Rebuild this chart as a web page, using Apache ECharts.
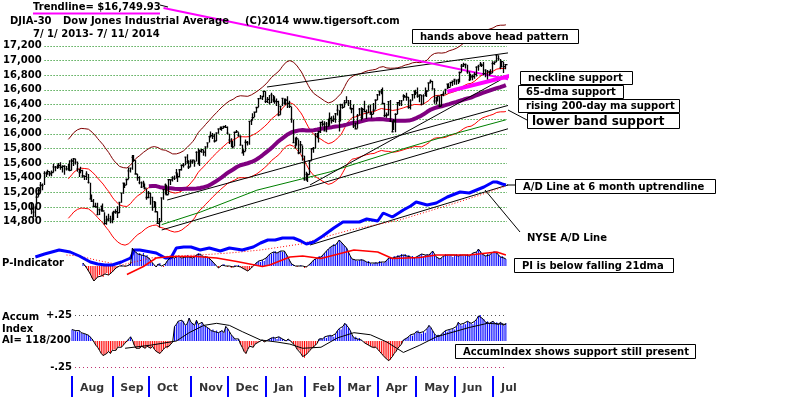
<!DOCTYPE html>
<html><head><meta charset="utf-8">
<script src="https://cdn.jsdelivr.net/npm/echarts@6/dist/echarts.min.js"></script>
<style>html,body{margin:0;padding:0;background:#fff}#c{width:800px;height:397px}</style>
</head><body><div id="c"></div>
<script>
// ---------- DATA ----------
const holidays = ['2013-07-04','2013-09-02','2013-11-28','2013-12-25','2014-01-01','2014-01-20','2014-02-17','2014-04-18','2014-05-26','2014-07-04'];
const monthNames = ['Jan','Feb','Mar','Apr','May','Jun','Jul','Aug','Sep','Oct','Nov','Dec'];

const closes = [
14975,14932,14988,15136,15225,15300,15291,15460,15464,15484,15452,15471,15548,15543,15545,15567,15542,15555,15559,15521,15520,15500,
15628,15658,15612,15519,15471,15498,15425,15419,15451,15337,15112,15081,15010,15002,14897,14963,15010,14946,14776,14825,14840,14810,
14834,14931,14937,14922,15063,15191,15327,15300,15376,15494,15530,15677,15636,15451,15401,15334,15273,15328,15258,15130,
15191,15133,14996,15072,14936,14776,14802,15126,15237,15301,15168,15373,15371,15399,15392,15468,15413,15509,15570,15568,15680,15618,15546,
15615,15639,15618,15746,15593,15761,15783,15750,15822,15876,15962,15976,15968,15901,16010,16065,16073,16073,16098,16086,
16009,15915,15889,15821,16020,16026,15973,15844,15739,15755,15884,15875,16168,16179,16221,16294,16358,16479,16479,16505,16577,
16441,16469,16426,16531,16463,16444,16437,16257,16374,16482,16418,16459,16415,16374,16198,15880,15838,15929,15739,15849,15699,
15373,15445,15441,15629,15795,15802,15994,15964,16027,16154,16130,16041,16134,16104,16208,16180,16199,16273,16322,
16168,16395,16361,16422,16453,16419,16351,16341,16108,16066,16247,16337,16223,16331,16302,16276,16368,16268,16264,16323,16458,
16532,16573,16572,16413,16246,16256,16438,16171,16027,16174,16263,16425,16409,16449,16514,16502,16501,16361,16449,16535,16581,
16558,16513,16531,16401,16518,16550,16583,16695,16715,16613,16447,16491,16512,16375,16534,16543,16606,16676,16633,16698,16717,
16743,16722,16737,16836,16924,16943,16945,16844,16734,16776,16781,16809,16907,16921,16947,16937,16819,16868,16847,16852,16827,
16956,16976,17068,17024,16906,16985,16915,16944];

const highs = [
15070,15010,15010,15190,15250,15340,15320,15490,15480,15510,15490,15500,15590,15560,15580,15600,15610,15570,15570,15560,15590,15640,
15660,15670,15660,15620,15520,15550,15510,15430,15490,15450,15330,15170,15110,15060,15060,14980,15020,15050,14930,14880,14910,14880,
14930,14950,14970,15010,15070,15200,15330,15330,15390,15540,15540,15710,15710,15640,15450,15420,15350,15360,15320,15250,
15220,15190,15140,15080,15070,14940,14850,15130,15240,15320,15300,15380,15380,15420,15430,15520,15460,15520,15580,15600,15690,15720,15640,
15650,15650,15640,15760,15800,15780,15790,15780,15830,15880,15970,16030,16010,16000,16020,16070,16100,16100,16110,16120,
16100,16000,15940,15900,16030,16050,16020,15980,15850,15790,15920,15900,16170,16200,16280,16300,16360,16480,16530,16520,16580,
16580,16500,16530,16560,16530,16510,16480,16450,16380,16490,16480,16480,16510,16450,16370,16190,15950,15960,15920,15900,15840,
15700,15480,15460,15640,15800,15820,16010,16010,16040,16160,16180,16170,16160,16200,16290,16240,16250,16280,16400,
16320,16410,16410,16460,16510,16460,16460,16350,16400,16150,16270,16350,16360,16350,16450,16330,16390,16400,16300,16420,16470,
16540,16590,16610,16630,16420,16290,16440,16460,16170,16200,16280,16430,16460,16460,16540,16530,16560,16500,16470,16540,16590,
16600,16630,16540,16530,16540,16630,16590,16700,16740,16720,16620,16500,16520,16510,16540,16580,16610,16680,16690,16710,16720,
16750,16740,16750,16850,16950,16970,16960,16940,16850,16820,16810,16840,16920,16940,16980,16960,16980,16880,16870,16860,16880,
16990,16990,17075,17070,17020,16990,16980,16950];

const lows = [
14900,14860,14860,14990,15140,15230,15230,15300,15410,15440,15420,15420,15470,15490,15520,15530,15510,15470,15440,15500,15500,15490,
15500,15560,15580,15480,15410,15460,15400,15370,15370,15320,15100,15070,15000,14990,14890,14890,14940,14940,14760,14760,14810,14780,
14780,14820,14910,14850,14920,15060,15180,15260,15300,15380,15470,15510,15620,15450,15360,15310,15260,15270,15240,15100,
15120,15030,14950,14990,14930,14770,14720,14810,15100,15170,15160,15170,15300,15350,15370,15390,15340,15410,15500,15540,15570,15590,15520,
15550,15590,15550,15620,15580,15560,15740,15700,15690,15810,15880,15950,15930,15880,15900,16000,16050,16040,16070,16080,
15990,15860,15820,15800,15830,16010,15960,15840,15730,15700,15760,15840,15850,16120,16180,16230,16290,16360,16470,16460,16500,
16420,16420,16400,16420,16430,16410,16380,16240,16260,16380,16400,16390,16350,16350,16150,15870,15800,15840,15720,15740,15630,
15360,15360,15340,15440,15630,15740,15800,15940,15880,16010,16100,16030,16020,16100,16110,16140,16160,16150,16250,
16030,16170,16340,16360,16420,16380,16330,16280,16080,16060,16070,16250,16180,16200,16300,16200,16280,16260,16210,16270,16330,
16460,16520,16540,16400,16230,16220,16250,16160,16020,16050,16020,16270,16380,16380,16450,16490,16450,16340,16330,16450,16480,
16530,16490,16430,16390,16400,16510,16500,16590,16690,16600,16410,16400,16440,16360,16380,16510,16540,16610,16620,16640,16650,
16670,16670,16680,16700,16840,16910,16890,16820,16720,16730,16730,16750,16780,16860,16920,16910,16800,16770,16740,16790,16810,
16830,16940,16980,17000,16880,16910,16830,16880];

// price tick labels
const priceTickMin = 14800, priceTickMax = 17200, priceTickStep = 200;

// 200-day ma (green) readings [dayIndex, price]
const greenLine = [[71,14760],[92,14930],[123,15230],[163,15480],[178,15600],[201,15780],[228,15980],[259,16190]];

// straight trendlines [dayIndex, price]
const upperChannel = [[128.5,16638],[298.4,17238]];
const headTrendline = [[72,17716],[262,16734]];
const necklineLine = [[227,16574],[267,16825]];
const supportLine1 = [[74,15096],[261,16392]];
const supportLine2 = [[71,14687],[267,16118]];
const supportLine3 = [[152,15301],[256,16733]];

// NYSE A/D line (relative units) [dayIndex, value]
const adLine = [[2,43],[7,46],[15,50],[21,48],[26,44],[32,38],[36,36],[40,35],[44,35],[49,38],[54,42],[56,50],[59,50],[65,48],[68,47],[73,42],[76,42],[79,52],[83,53],[87,53],[92,50],[97,52],[103,49],[108,52],[115,50],[121,53],[125,57],[129,60],[133,60],[137,62],[143,62],[147,59],[150,56],[154,58],[159,64],[165,72],[170,78],[174,78],[179,78],[183,81],[189,79],[192,87],[197,83],[203,90],[207,94],[210,98],[216,95],[221,97],[227,103],[234,108],[239,107],[247,113],[252,118],[254,118],[257,116],[259,115]];
const adMA = [[19,45],[26,44],[35,40],[43,37],[49,35],[56,38],[65,42],[76,44],[92,45],[108,47],[125,50],[136,53],[147,56],[158,62],[174,70],[201,80],[228,95],[245,105],[259,114]];
const adTrend = [[152,55],[286,129.4]];

// P-Indicator (relative units), daily from index piStart
const piStart = 28;
const piValues = [3,1,-2,-5, -8,-12,-15,-13,-11, -9,-10,-11,-8,-7, -9,-8,-6,-4,-2,-1, 0,1,0,-1,0,1,2,
18,15,14,12,13,11,13,10,11,8, 6,3,1,-1,2,3,0,-1,2,5, 7,9,10,8,9,
10,9,8,10,9,11,9,10,8,9,11,13,12,10,9,10,9,8,6,4,
2,0,-2,-1,1,2,0,-1,0,-2,-1,1,0,1,-1,-2, -3,-4,-5,-4,-2,0, 2,4,5,4,6,5,8,10,12,
12,14,15,13,14,15,14,15,12,9,5,2, 1,0,-1,0,1,0,-2,-1,0,2,4,
6,7,8,10,9,11,13,15,17,19,20,22,21,23,26,24,22,20,18,14,10,7,
7,6,5,6,7,6,5,4,5,3,2,3,4,3,5,4,3,4,6,8,
9,8,10,9,11,10,12,11,12,10, 11,9,10,8,9,10,11,12,10,11, 12,11,13,15,12,9,8,7,8,10,
12,11,10,11,9,11,12,10,12,11, 10,11,12,10,11,13,12,14,17,15, 12,11,10,12,11,12,14,15,13,11, 9,10,8,7];
const piMA = [[52,-8.5],[61,-0.5],[68,8],[76,9.5],[90,9.5],[101,8],[112,4.5],[126,-0.5],[130,1],[141,9],[148,10],[158,7.5],[176,16],[189,14],[197,7.5],[212,8.5],[221,11],[239,11],[254,14],[259,11]];

// Accumulation Index, daily from index aiStart
const aiStart = 22;
const aiValues = [0.11,0.10,0.10,0.09,0.10,0.08,0.07,0.07,0.06,0.055,0.04,0.02,
-0.01,-0.04,-0.06,-0.09,-0.12,-0.14,-0.13,-0.12,-0.10,-0.12,-0.09,-0.08,
-0.09,-0.06,-0.05,-0.06,-0.04,-0.02,-0.01,0.02,0.04,0.01,
-0.04,-0.07,-0.06,-0.07,-0.05,-0.06,-0.07,-0.05,-0.06,-0.07,-0.05,
-0.08,-0.10,-0.11,-0.12,-0.10,-0.08,-0.06,-0.07,-0.05,-0.03,-0.01,
0.14,0.16,0.19,0.18,0.20,0.19,0.15,0.17,0.22,0.18,0.17,0.15,0.20,
0.16,0.15,0.18,0.15,0.14,0.13,0.12,0.10,0.11,0.09,0.10,0.08,0.09,
0.10,0.08,0.14,0.12,0.09,0.06,0.04,0.02,0.01,0.02,
-0.03,-0.06,-0.10,-0.12,-0.08,-0.05,-0.04,-0.06,-0.03,-0.02,-0.01,0.00,0.01,-0.01,0.00,
0.01,0.02,0.03,0.04,0.03,0.02,0.04,0.03,0.02,0.01,0.00,0.02,0.01,-0.01,
-0.03,-0.05,-0.08,-0.09,-0.12,-0.15,-0.16,-0.13,-0.11,-0.09,-0.07,-0.06,-0.04,-0.02,
0.02,0.03,0.02,0.04,0.03,0.05,0.06,0.05,0.04,0.07,0.10,0.12,0.11,0.14,0.17,0.16,0.13,0.10,0.06,
0.03,0.04,0.02,0.03,0.01,0.00,-0.02,-0.03,
-0.04,-0.05,-0.06,-0.07,-0.06,-0.08,-0.10,-0.12,-0.14,-0.16,-0.17,-0.19,-0.18,-0.15,-0.12,-0.10,-0.07,-0.05,-0.03,
0.01,0.02,0.03,0.04,0.06,0.05,0.07,0.09,0.10,0.08,0.07,0.09,0.08,0.12,0.15,0.13,0.10,0.07,0.05,
0.06,0.05,0.07,0.08,0.10,0.09,0.11,0.10,0.12,0.11,0.14,0.18,0.16,0.15,0.17,0.16,0.19,0.18,0.17,0.16,
0.19,0.21,0.24,0.25,0.22,0.21,0.18,0.19,0.17,0.18,0.19,0.17,0.18,0.16,0.18,0.17,0.15,0.17];
const aiMA = [[51,-0.07],[65,-0.04],[79,0.0],[86,0.08],[94,0.15],[101,0.17],[108,0.15],[115,0.09],[125,0.01],[134,-0.01],[141,-0.03],[148,-0.07],[158,-0.06],[167,0.03],[176,0.08],[185,0.06],[194,-0.01],[203,-0.11],[212,-0.04],[221,0.04],[239,0.13],[249,0.17],[259,0.16]];

// ---------- BUILD ----------
function buildDates(){
  const out=[]; let t=Date.UTC(2013,6,1); const end=Date.UTC(2014,6,11);
  while(t<=end){ const d=new Date(t); const wd=d.getUTCDay(); const s=d.toISOString().slice(0,10);
    if(wd!==0 && wd!==6 && holidays.indexOf(s)<0) out.push(s); t+=86400000; }
  return out;
}
const dates = buildDates();
const N = dates.length;
function sma(arr,n){ return arr.map((_,i)=> i<n-1 ? null : arr.slice(i-n+1,i+1).reduce((a,b)=>a+b,0)/n); }
const ma21 = sma(closes,21);
const upperBand = ma21.map(v=> v==null?null: v*1.035);
const lowerBand = ma21.map(v=> v==null?null: v*0.965);
const ma65 = sma(closes,65);
const piFull = new Array(N).fill(null); piValues.forEach((v,i)=>{ piFull[piStart+i]=v; });
const aiFull = new Array(N).fill(null); aiValues.forEach((v,i)=>{ aiFull[aiStart+i]=v; });
const monthStarts = [];
for(let i=1;i<N;i++){ if(dates[i].slice(5,7)!==dates[i-1].slice(5,7)) monthStarts.push({idx:i,name:monthNames[+dates[i].slice(5,7)-1]}); }

const FONT = '"DejaVu Sans"';
const L = 30.8, W = 476;
const valX = (g,pos)=>({type:'value',gridIndex:g,min:-0.5,max:N-0.5,show:false,position:pos||'top'});
const catX = (g)=>({type:'category',gridIndex:g,data:dates,show:false,boundaryGap:true,position:'bottom'});

const chart = echarts.init(document.getElementById('c'), null, {renderer:'canvas'});

function tl(data,xi,yi,color,width,extra){
  return Object.assign({type:'line',xAxisIndex:xi,yAxisIndex:yi,data:data,showSymbol:false,symbol:'none',clip:false,
    lineStyle:{color:color,width:width},silent:true,z:3}, extra||{});
}

const boxes = [
  {t:'hands above head pattern', x:412, y:29, w:166, h:14, fs:10},
  {t:'neckline support', x:520, y:71, w:112, h:13, fs:10},
  {t:'65-dma support', x:518, y:85, w:105, h:13, fs:10},
  {t:'rising 200-day ma support', x:518, y:99, w:161, h:13, fs:10},
  {t:'lower band support', x:527, y:113, w:152, h:15, fs:12},
  {t:'A/D Line at 6 month uptrendline', x:515, y:179, w:200, h:14, fs:10},
  {t:'PI is below falling 21dma', x:514, y:258, w:159, h:14, fs:10},
  {t:'AccumIndex shows support still present', x:455, y:344, w:240, h:14, fs:10}
];
const graphics = [];
function txt(s,x,y,fs,color){ graphics.push({type:'text',x:x,y:y,z:30,silent:true,style:{text:s,fill:color||'#000',font:'bold '+(fs||10)+'px '+FONT,verticalAlign:'middle',textVerticalAlign:'middle'}}); }
function seg(x1,y1,x2,y2,color,w){ graphics.push({type:'line',z:25,silent:true,shape:{x1:x1,y1:y1,x2:x2,y2:y2},style:{stroke:color,lineWidth:w||1}}); }
boxes.forEach(b=>{
  graphics.push({type:'rect',z:28,silent:true,shape:{x:b.x+0.5,y:b.y+0.5,width:b.w,height:b.h},style:{fill:'#fff',stroke:'#000',lineWidth:1}});
  txt(b.t,b.x+(b.fs>10?5:8),b.y+b.h/2+1,b.fs);
});
txt('Trendline= $16,749.93',33,7,10);
seg(33,13.5,160,13.5,'#ff00ff',2);
seg(160,5,168,7,'#000',1);
txt('DJIA-30',10,21,10);
txt('Dow Jones Industrial Average',63,21,10);
txt('(C)2014 www.tigersoft.com',245,21,10);
txt('7/ 1/ 2013- 7/ 11/ 2014',33,34,10);
txt('NYSE A/D Line',527,238,10);
txt('P-Indicator',2,263,10);
txt('Accum',2,317,10);
txt('Index',2,329,10);
txt('AI= 118/200',2,340,10);
seg(508,110,527,120,'#000',1);
seg(485,190,520,232,'#000',1);
seg(507,185,515,185,'#000',1);

const option = {
  animation:false,
  backgroundColor:'#fff',
  grid:[
    {left:L,top:45.8,width:W,height:175.9},      // 0 price
    {left:43,top:45.8,width:464,height:175.9},   // 1 price gridlines/labels
    {left:L,top:150,width:W,height:150},         // 2 A/D
    {left:L,top:230,width:W,height:60},          // 3 PI
    {left:L,top:315,width:W,height:52},          // 4 AI
    {left:75,top:315,width:432,height:52},       // 5 AI gridlines
    {left:L,top:376,width:W,height:21}           // 6 months
  ],
  xAxis:[ catX(0), valX(0), valX(1,'bottom'), valX(2,'bottom'), catX(3), valX(3), catX(4), valX(4), valX(5,'bottom'), valX(6,'bottom') ],
  yAxis:[
    {type:'value',gridIndex:0,min:priceTickMin,max:priceTickMax,show:false},
    {type:'value',gridIndex:1,min:priceTickMin,max:priceTickMax,interval:priceTickStep,
      axisLine:{show:false},axisTick:{show:false},
      axisLabel:{margin:3,color:'#000',fontFamily:FONT,fontWeight:'bold',fontSize:10},
      splitLine:{show:true,lineStyle:{color:'#008000',type:[1,2],width:1}}},
    {type:'value',gridIndex:2,min:0,max:150,show:false},
    {type:'value',gridIndex:3,min:-24,max:36,show:false},
    {type:'value',gridIndex:4,min:-0.25,max:0.25,show:false},
    {type:'value',gridIndex:5,min:-0.25,max:0.25,interval:0.5,
      axisLine:{show:false},axisTick:{show:false},
      axisLabel:{margin:3,color:'#000',fontFamily:FONT,fontWeight:'bold',fontSize:10,formatter:v=> v>0?'+.25':'-.25'},
      splitLine:{show:true,lineStyle:{color:['#c03070','#555'],type:[1,3],width:1}}},
    {type:'value',gridIndex:6,min:0,max:1,show:false}
  ],
  series:[
    // price bars
    {type:'candlestick',xAxisIndex:0,yAxisIndex:0,clip:false,barWidth:3,silent:true,z:4,
      data:closes.map((c,i)=>[c,c,lows[i],highs[i]]),
      itemStyle:{color:'#000',color0:'#000',borderColor:'#000',borderColor0:'#000',borderWidth:1.3}},
    tl(upperBand,0,0,'#800000',1),
    tl(lowerBand,0,0,'#ff0000',1),
    tl(ma21,0,0,'#ff0000',1),
    tl(ma65,0,0,'#800080',4),
    tl(greenLine,1,0,'#008000',1),
    tl(upperChannel,1,0,'#000',1),
    tl(supportLine1,1,0,'#000',1),
    tl(supportLine2,1,0,'#000',1),
    tl(supportLine3,1,0,'#000',1),
    tl(headTrendline,1,0,'#ff00ff',2),
    tl(necklineLine,1,0,'#ff00ff',4),
    // A/D
    tl(adTrend,3,2,'#000',1),
    tl(adMA,3,2,'#ff0000',1,{lineStyle:{color:'#ff0000',width:1,type:[1,2]}}),
    tl(adLine,3,2,'#0000ff',3),
    // PI
    {type:'bar',xAxisIndex:4,yAxisIndex:3,data:piFull,barWidth:1,silent:true,z:2,
      itemStyle:{color:p=> p.value>=0?'#0000ff':'#ff0000'}},
    tl(piFull,4,3,'#000',1,{z:3}),
    tl(piMA,5,3,'#ff0000',1.5,{z:4}),
    // AI
    {type:'bar',xAxisIndex:6,yAxisIndex:4,data:aiFull,barWidth:1,silent:true,z:2,
      itemStyle:{color:p=> p.value>=0?'#0000ff':'#ff0000'}},
    tl(aiFull,6,4,'#000',1,{z:3}),
    tl(aiMA,7,4,'#000',1,{z:4}),
    // months
    {type:'line',xAxisIndex:9,yAxisIndex:6,data:[[0,0]],symbol:'none',lineStyle:{opacity:0},silent:true,
      markLine:{silent:true,symbol:['none','none'],label:{show:false},lineStyle:{color:'#0000ff',width:2,type:'solid'},
        data:monthStarts.map(m=>({xAxis:m.idx}))}},
    {type:'scatter',xAxisIndex:9,yAxisIndex:6,symbolSize:0,silent:true,
      data:monthStarts.map(m=>({value:[m.idx,0.5],name:m.name})),
      label:{show:true,position:'right',distance:8,offset:[0,2],formatter:p=>p.name,color:'#000',fontFamily:FONT,fontWeight:'bold',fontSize:11}}
  ],
  graphic: graphics
};
chart.setOption(option);
</script>
</body></html>
